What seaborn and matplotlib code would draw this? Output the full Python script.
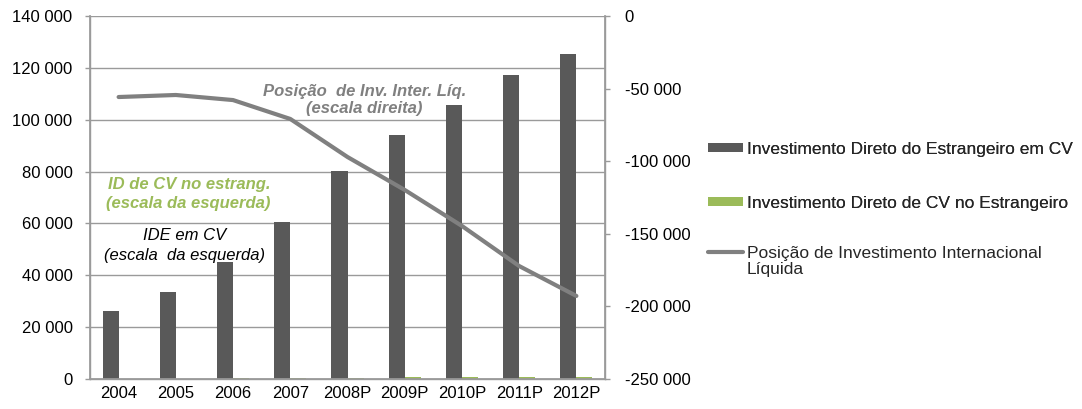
import numpy as np
import pandas as pd
import matplotlib
matplotlib.use("Agg")
import matplotlib.pyplot as plt
from matplotlib.patches import Patch
from matplotlib.lines import Line2D
from matplotlib.legend_handler import HandlerLine2D
import seaborn as sns

sns.set_theme(style="white")
plt.rcParams["font.family"] = ["Liberation Sans", "DejaVu Sans"]

years = ["2004", "2005", "2006", "2007", "2008P", "2009P", "2010P", "2011P", "2012P"]
ide_cv = [26300, 33500, 45000, 60500, 80200, 94000, 105700, 117300, 125300]
id_cv_ext = [100, 150, 200, 400, 500, 600, 700, 800, 900]
piil = [-55800, -54400, -57900, -70900, -97100, -119800, -144600, -172200, -192800]

lbl_ide = "Investimento Direto do Estrangeiro em CV"
lbl_ext = "Investimento Direto de CV no Estrangeiro"
lbl_piil = "Posição de Investimento Internacional\nLíquida"

c_dark = "#595959"
c_green = "#9BBB59"
c_line = "#808080"
c_axis = "#9a9a9a"
fs = 12
fs_leg = 12.5

bars = pd.DataFrame({
    "ano": years * 2,
    "valor": ide_cv + id_cv_ext,
    "serie": [lbl_ide] * len(years) + [lbl_ext] * len(years),
})
line_df = pd.DataFrame({"pos": np.arange(len(years)), "valor": piil})


def fmt(v, _):
    s = f"{abs(int(v)):,}".replace(",", " ")
    return ("-" if v < 0 else "") + s


class HandlerTopLine(HandlerLine2D):
    """Line handle aligned with the first line of a two-line label."""
    def create_artists(self, legend, orig_handle, xdescent, ydescent,
                       width, height, fontsize, trans):
        artists = super().create_artists(legend, orig_handle, xdescent, ydescent,
                                         width, height, fontsize, trans)
        for a in artists:
            a.set_ydata(np.asarray(a.get_ydata()) + 0.6 * fontsize)
        return artists


fig = plt.figure(figsize=(10.82, 4.09), dpi=100)
ax = fig.add_axes([90 / 1082, 1 - 379 / 409, 515 / 1082, 363 / 409])

sns.barplot(data=bars, x="ano", y="valor", hue="serie", order=years,
            palette=[c_dark, c_green], width=0.56, saturation=1,
            ax=ax, legend=False, linewidth=0)

ax.set_ylim(0, 140000)
ax.set_xlim(-0.5, len(years) - 0.5)
ax.set_yticks(np.arange(0, 140001, 20000))
ax.yaxis.set_major_formatter(matplotlib.ticker.FuncFormatter(fmt))
ax.grid(axis="y", color=c_axis, linewidth=1)
ax.set_axisbelow(True)
ax.set_xlabel("")
ax.set_ylabel("")

ax.set_xticks(np.arange(len(years)))
ax.set_xticklabels(years)
ax.set_xticks(np.arange(-0.5, len(years)), minor=True)
ax.tick_params(axis="x", which="major", length=0, labelsize=fs, pad=5, colors="black")
ax.tick_params(axis="x", which="minor", length=3.6, width=1, color=c_axis, direction="out")
ax.tick_params(axis="y", length=3.6, width=1, color=c_axis, direction="out",
               labelsize=fs, left=True, pad=9, labelcolor="black")

ax.spines["top"].set_visible(False)
for side in ["left", "bottom", "right"]:
    ax.spines[side].set_color(c_axis)
    ax.spines[side].set_linewidth(1)

ax2 = ax.twinx()
sns.lineplot(data=line_df, x="pos", y="valor", color=c_line, linewidth=3, ax=ax2)
ax2.set_ylim(-250000, 0)
ax2.set_yticks(np.arange(-250000, 1, 50000))
ax2.yaxis.set_major_formatter(matplotlib.ticker.FuncFormatter(fmt))
ax2.tick_params(axis="y", length=3.6, width=1, color=c_axis, direction="out",
                labelsize=fs, pad=10.5, labelcolor="black")
ax2.set_xlabel("")
ax2.set_ylabel("")
ax2.spines["top"].set_visible(False)
for side in ["left", "bottom", "right"]:
    ax2.spines[side].set_color(c_axis)
ax2.set_xlim(-0.5, len(years) - 0.5)

# Annotations
ax.text(4.3, 110900, "Posição  de Inv. Inter. Líq.", ha="center", va="center",
        fontsize=fs, fontstyle="italic", fontweight="bold", color=c_line)
ax.text(4.3, 104400, "(escala direita)", ha="center", va="center",
        fontsize=fs, fontstyle="italic", fontweight="bold", color=c_line)
ax.text(1.24, 75200, "ID de CV no estrang.", ha="center", va="center",
        fontsize=fs, fontstyle="italic", fontweight="bold", color=c_green)
ax.text(1.22, 67500, "(escala da esquerda)", ha="center", va="center",
        fontsize=fs, fontstyle="italic", fontweight="bold", color=c_green)
ax.text(1.16, 55300, "IDE em CV", ha="center", va="center",
        fontsize=fs, fontstyle="italic", color="black")
ax.text(1.16, 47800, "(escala  da esquerda)", ha="center", va="center",
        fontsize=fs, fontstyle="italic", color="black")

leg_kw = dict(loc="upper left", frameon=False, fontsize=fs_leg, handlelength=2.0,
              handleheight=0.4, handletextpad=0.22, borderaxespad=0, borderpad=0)

leg1 = fig.legend([Patch(facecolor=c_dark, edgecolor="none"),
                   Patch(facecolor=c_green, edgecolor="none")],
                  [lbl_ide, lbl_ext], bbox_to_anchor=(708 / 1082, 1 - 142 / 409),
                  labelspacing=2.22, **leg_kw)
leg2 = fig.legend([Line2D([0], [0], color=c_line, linewidth=3)], [lbl_piil],
                  bbox_to_anchor=(708 / 1082, 1 - 246 / 409),
                  handler_map={Line2D: HandlerTopLine()}, **leg_kw)
for t in leg2.get_texts():
    t.set_linespacing(1.05)
fig.add_artist(leg1)

fig.savefig("out.png", dpi=100)
